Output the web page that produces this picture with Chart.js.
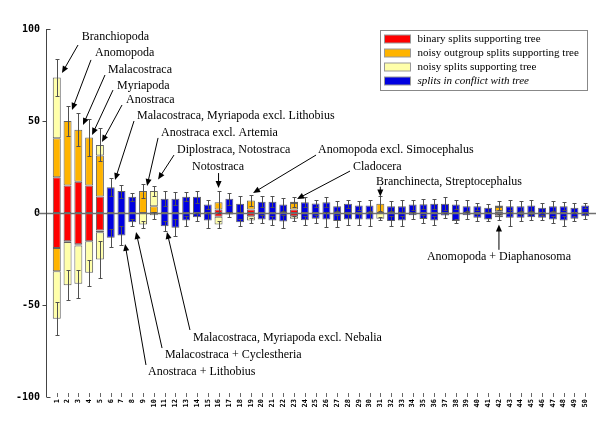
<!DOCTYPE html>
<html><head><meta charset="utf-8">
<script src="https://cdn.jsdelivr.net/npm/chart.js@4/dist/chart.umd.min.js"></script>
<style>html,body{margin:0;padding:0;background:#fff}#wrap{width:600px;height:424px;position:relative}</style>
</head><body><div id="wrap"><canvas id="c" width="600" height="424"></canvas></div>
<script>
const categories = ["1","2","3","4","5","6","7","8","9","10","11","12","13","14","15","16","17","18","19","20","21","22","23","24","25","26","27","28","29","30","31","32","33","34","35","36","37","38","39","40","41","42","43","44","45","46","47","48","49","50"];
const redPos    = [19.4,14.9,17,14.9,9, 0,0,0,0,0, 0,0,0,0,0, 1.9,0,0,1.9,0, 0,0,1.9,0,0, 0,0,0,0,0, 0,0,0,0,0, 0,0,0,0,0, 0,1,0,0,0, 0,0,0,0,0];
const orangePos = [21.2,35.1,28.2,26.1,22.2, 0,0,0,11.9,3.7, 0,0,0,0,0, 4,0,0,4.9,0, 0,0,3.6,0,0, 0,0,0,0,0, 5,0,0,0,0, 0,0,0,0,0, 0,2.3,0,0,0, 0,0,0,0,0];
const yellowPos = [33.1,0,0,0,5.8, 0,0,0,0,8.2, 0,0,0,0,0, 0,0,0,0,0, 0,0,0.6,0,0, 0,0,0,0,0, 0,0,0,0,0, 0,0,0,0,0, 0,0.8,0,0,0, 0,0,0,0,0];
const redNeg    = [-19,-15.3,-17,-15.3,-9.5, 0,0,0,0,0, 0,0,0,0,0, -2,0,0,-1.7,0, 0,0,-1.7,0,0, 0,0,0,0,0, 0,0,0,0,0, 0,0,0,0,0, 0,-1.2,0,0,0, 0,0,0,0,0];
const orangeNeg = [-12.6,-0.5,-0.6,0,-0.9, 0,0,0,0,0, 0,0,0,0,0, 0,0,0,0,0, 0,0,0,0,0, 0,0,0,0,0, 0,0,0,0,0, 0,0,0,0,0, 0,0,0,0,0, 0,0,0,0,0];
const yellowNeg = [-25.9,-23.4,-20.9,-17.2,-14.9, 0,0,0,-6.3,-1.2, 0,0,0,0,0, -4.3,0,0,-2.4,0, 0,0,-1.4,0,0, 0,0,0,0,0, -3.1,0,0,0,0, 0,0,0,0,0, 0,-1.1,0,0,0, 0,0,0,0,0];
const bluePos   = [0,0,0,0,0, 14,11.9,8.8,0,0, 7.7,7.7,8.8,8.8,4.6, 0,7.7,5,0,6.1, 6.1,4.6,0,5.9,5.2, 5.9,3.7,5,4.1,4.1, 0,3.7,3.7,4.6,4.8, 5,5,4.6,3.7,3.7, 2.8,0,3.7,3.7,4.1, 2.8,3.7,3.7,2.8,4.1];
const blueNeg   = [0,0,0,0,0, -13.5,-12.2,-5,0,0, -7.2,-8,-4.1,-2.3,-4.1, 0,-0.8,-5,0,-3.5, -4.1,-4.6,0,-3.9,-3.1, -3.5,-4.3,-3.5,-3.5,-3.5, 0,-4.4,-4.1,-1.2,-3.2, -4.1,-1.4,-4.4,-1.2,-2.6, -3.5,0,-2.6,-2.6,-2.3, -2.6,-3.5,-4.1,-3.1,-1.7];
const errUp     = [10,8,9,10,9, 5,3.5,2.2,3.6,2.7, 4.1,3.6,2.5,3.1,2.2, 6,3.3,4.5,3.2,3, 3,3.6,2.7,2.9,2.1, 2.9,2.7,2.3,2.3,3.2, 4.1,2.7,3.3,2.7,2.6, 2.7,3.6,2.4,3.1,1.8, 2.2,2.3,3.6,2.7,2.9, 2.7,2.7,2.2,2.7,1.4];
const errDown   = [9,8,7.5,7,10, 5,5,1.8,1.7,2, 2.7,4.6,2.7,2.1,3.9, 1.7,1.2,1.8,1.2,2.2, 2.2,3.4,1.3,2.4,2.2, 4,3.2,2.8,2.8,3.3, 0.8,2.7,2.7,1.9,2.2, 2.2,1.2,1.3,2.3,1.8, 0.9,1.5,4.2,1.8,1.6, 1.3,1.8,2.7,1.3,1.8];
const yTicks = [-100, -50, 0, 50, 100];
const legendLabels = ["binary splits supporting tree", "noisy outgroup splits supporting tree", "noisy splits supporting tree", "splits in conflict with tree"];
// annotation anchors in data units: [category position, value]
const annotations = [
  {text: "Branchiopoda", at: [3.32, 95.6], align: "left", from: [2.97, 91.3], to: [1.48, 76.1]},
  {text: "Anomopoda", at: [4.54, 87], align: "left", from: [4.17, 83.2], to: [2.41, 56]},
  {text: "Malacostraca", at: [5.75, 77.7], align: "left", from: [5.47, 75], to: [3.43, 47.8]},
  {text: "Myriapoda", at: [6.58, 69], align: "left", from: [6.21, 66.8], to: [4.27, 42.4]},
  {text: "Anostraca", at: [7.42, 61.4], align: "left", from: [7.05, 58.7], to: [5.19, 38.6]},
  {text: "Malacostraca, Myriapoda excl. Lithobius", at: [8.44, 52.7], align: "left", from: [8.16, 50], to: [6.4, 17.9]},
  {text: "Anostraca excl. Artemia", at: [10.66, 43.5], align: "left", from: [10.39, 40.8], to: [9.37, 14.7]},
  {text: "Diplostraca, Notostraca", at: [12.15, 34.2], align: "left", from: [11.87, 31.5], to: [10.39, 18.2]},
  {text: "Notostraca", at: [15.95, 25.2], align: "center", from: [16, 21.7], to: [16, 13.6]},
  {text: "Anomopoda excl. Simocephalus", at: [25.22, 34.2], align: "left", from: [25.04, 31.5], to: [19.2, 10.9]},
  {text: "Cladocera", at: [28.47, 25.2], align: "left", from: [28.19, 22.8], to: [23.28, 7.6]},
  {text: "Branchinecta, Streptocephalus", at: [30.6, 17], align: "left", from: [31, 14.3], to: [31, 8.9]},
  {text: "Anomopoda + Diaphanosoma", at: [42, -23.9], align: "center", from: [42, -20], to: [42, -6.3]},
  {text: "Malacostraca, Myriapoda excl. Nebalia", at: [13.63, -67.9], align: "left", from: [13.35, -63.6], to: [11.22, -10.3]},
  {text: "Malacostraca + Cyclestheria", at: [11.03, -77.2], align: "left", from: [10.76, -73.4], to: [8.35, -10.3]},
  {text: "Anostraca + Lithobius", at: [9.46, -86.4], align: "left", from: [9.27, -82.6], to: [7.33, -16.8]}
];

const COLORS = {red: "#ff0000", orange: "#ffb400", yellow: "#ffffaa", blue: "#0000e0"};
const EDGE = "rgba(70,70,70,0.85)";
const SERIF = "'Liberation Serif', 'Times New Roman', serif";
const MONO = "'DejaVu Sans Mono', monospace";

const toPoints = arr => arr.map((v, i) => ({x: Number(categories[i]), y: v === 0 ? null : v}));
const mk = (arr, color) => ({data: toPoints(arr), backgroundColor: color, borderColor: EDGE, borderWidth: 1, borderSkipped: false, stack: "s", barPercentage: 0.74, categoryPercentage: 1});

const datasets = [
  mk(redPos, COLORS.red), mk(orangePos, COLORS.orange), mk(yellowPos, COLORS.yellow),
  mk(redNeg, COLORS.red), mk(orangeNeg, COLORS.orange), mk(yellowNeg, COLORS.yellow),
  mk(bluePos, COLORS.blue), mk(blueNeg, COLORS.blue)
];

const decor = {
  id: "decor",
  afterDatasetsDraw(chart) {
    const {ctx, chartArea: ca, scales: {x, y}} = chart;
    const y0 = Math.round(y.getPixelForValue(0)) + 0.5;
    ctx.save();
    // zero line
    ctx.strokeStyle = "#707070"; ctx.lineWidth = 1.3;
    ctx.beginPath(); ctx.moveTo(ca.left - 8, y0); ctx.lineTo(ca.right, y0); ctx.stroke();
    // y axis line and ticks
    const ax = Math.round(ca.left) + 0.5;
    ctx.strokeStyle = "#444"; ctx.lineWidth = 1;
    ctx.beginPath(); ctx.moveTo(ax, y.getPixelForValue(100)); ctx.lineTo(ax, y.getPixelForValue(-100)); ctx.stroke();
    yTicks.forEach(t => {
      const py = Math.round(y.getPixelForValue(t)) + 0.5;
      ctx.beginPath();
      if (Math.abs(t) === 100) { ctx.moveTo(ax, py); ctx.lineTo(ax + 4, py); }
      else if (t !== 0) { ctx.moveTo(ax - 4, py); ctx.lineTo(ax, py); }
      ctx.stroke();
    });
    // x tick marks (inside)
    ctx.strokeStyle = "#666";
    categories.forEach((c, i) => {
      const px = Math.round(x.getPixelForValue(i + 1)) + 0.5;
      ctx.beginPath(); ctx.moveTo(px, ca.bottom - 4); ctx.lineTo(px, ca.bottom); ctx.stroke();
    });
    // error bars
    ctx.strokeStyle = "#505050"; ctx.lineWidth = 1;
    const errBar = (px, v, e) => {
      const a = Math.round(y.getPixelForValue(v + e)) + 0.5;
      const b = Math.round(y.getPixelForValue(v - e)) + 0.5;
      ctx.beginPath();
      ctx.moveTo(px, a); ctx.lineTo(px, b);
      ctx.moveTo(px - 2, a); ctx.lineTo(px + 2, a);
      ctx.moveTo(px - 2, b); ctx.lineTo(px + 2, b);
      ctx.stroke();
    };
    categories.forEach((c, i) => {
      const top = redPos[i] + orangePos[i] + yellowPos[i] + bluePos[i];
      const bot = redNeg[i] + orangeNeg[i] + yellowNeg[i] + blueNeg[i];
      const px = Math.round(x.getPixelForValue(i + 1)) + 0.5;
      errBar(px, top, errUp[i]);
      errBar(px, bot, errDown[i]);
    });
    // annotations
    ctx.fillStyle = "#000"; ctx.strokeStyle = "#000"; ctx.lineWidth = 1;
    ctx.font = "12px " + SERIF; ctx.textBaseline = "middle";
    annotations.forEach(a => {
      ctx.textAlign = a.align;
      ctx.fillText(a.text, x.getPixelForValue(a.at[0]), y.getPixelForValue(a.at[1]));
      const x1 = x.getPixelForValue(a.from[0]), y1 = y.getPixelForValue(a.from[1]);
      const x2 = x.getPixelForValue(a.to[0]), y2 = y.getPixelForValue(a.to[1]);
      const ang = Math.atan2(y2 - y1, x2 - x1);
      const L = 7, W = 3;
      ctx.beginPath(); ctx.moveTo(x1, y1);
      ctx.lineTo(x2 - Math.cos(ang) * L * 0.8, y2 - Math.sin(ang) * L * 0.8); ctx.stroke();
      ctx.beginPath();
      ctx.moveTo(x2, y2);
      ctx.lineTo(x2 - Math.cos(ang) * L - Math.sin(ang) * W, y2 - Math.sin(ang) * L + Math.cos(ang) * W);
      ctx.lineTo(x2 - Math.cos(ang) * L + Math.sin(ang) * W, y2 - Math.sin(ang) * L - Math.cos(ang) * W);
      ctx.closePath(); ctx.fill();
    });
    // legend box
    const bw = 207, bh = 60;
    const bx = Math.round(ca.right - 9 - bw) + 0.5, by = Math.round(ca.top + 1) + 0.5;
    ctx.fillStyle = "#fff"; ctx.fillRect(bx, by, bw, bh);
    ctx.strokeStyle = "#888"; ctx.strokeRect(bx, by, bw, bh);
    const cols = [COLORS.red, COLORS.orange, COLORS.yellow, COLORS.blue];
    legendLabels.forEach((t, i) => {
      const ry = by + 8.5 + i * 14;
      ctx.fillStyle = cols[i]; ctx.fillRect(bx + 4, ry - 4, 26, 8);
      ctx.strokeStyle = "#999"; ctx.strokeRect(bx + 4, ry - 4, 26, 8);
      ctx.fillStyle = "#000";
      ctx.font = (i === 3 ? "italic " : "") + "11px " + SERIF;
      ctx.textAlign = "left"; ctx.textBaseline = "middle";
      ctx.fillText(t, bx + 37, ry + 0.5);
    });
    ctx.restore();
  }
};

new Chart(document.getElementById("c"), {
  type: "bar",
  data: {datasets},
  options: {
    responsive: false, animation: false, devicePixelRatio: 1,
    layout: {padding: {top: 29, right: 4, left: 0, bottom: 0}},
    plugins: {legend: {display: false}, tooltip: {enabled: false}},
    scales: {
      x: {
        type: "linear", min: 0, max: 51, stacked: true, offset: false,
        grid: {display: false, drawTicks: false, offset: false}, border: {display: false},
        afterBuildTicks: s => { s.ticks = categories.map((c, i) => ({value: i + 1})); },
        afterFit: s => { s.height = 27; },
        ticks: {autoSkip: false, minRotation: 90, maxRotation: 90, padding: 2, color: "#000",
          font: {family: MONO, size: 7, weight: "bold"},
          callback: (v, i) => categories[i]}
      },
      y: {
        min: -100, max: 100, stacked: true,
        grid: {display: false, drawTicks: false}, border: {display: false},
        afterBuildTicks: s => { s.ticks = yTicks.map(v => ({value: v})); },
        afterFit: s => { s.width = 46; },
        ticks: {padding: 6, color: "#000", font: {family: MONO, size: 10, weight: "bold"}}
      }
    }
  },
  plugins: [decor]
});
</script>
</body></html>
